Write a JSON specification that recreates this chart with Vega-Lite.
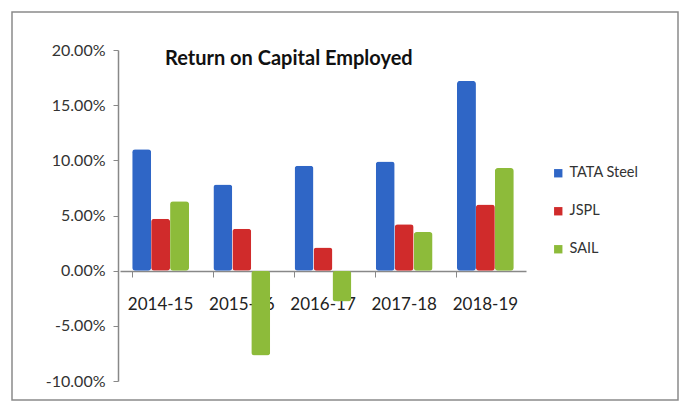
{
  "$schema": "https://vega.github.io/schema/vega-lite/v6.json",
  "width": 666,
  "height": 388,
  "autosize": {"type": "none"},
  "padding": {"left": 12, "top": 12, "right": 7, "bottom": 1},
  "background": "white",
  "title": {
    "text": "Return on Capital Employed",
    "anchor": "start",
    "frame": "group",
    "orient": "top",
    "dx": 153,
    "offset": -77,
    "baseline": "bottom",
    "font": "Lato",
    "fontSize": 20,
    "fontWeight": "bold",
    "color": "#111"
  },
  "data": {
    "values": [
      {"year": "2014-15", "company": "TATA Steel", "roce": 0.110},
      {"year": "2014-15", "company": "JSPL", "roce": 0.047},
      {"year": "2014-15", "company": "SAIL", "roce": 0.063},
      {"year": "2015-16", "company": "TATA Steel", "roce": 0.078},
      {"year": "2015-16", "company": "JSPL", "roce": 0.038},
      {"year": "2015-16", "company": "SAIL", "roce": -0.077},
      {"year": "2016-17", "company": "TATA Steel", "roce": 0.095},
      {"year": "2016-17", "company": "JSPL", "roce": 0.021},
      {"year": "2016-17", "company": "SAIL", "roce": -0.028},
      {"year": "2017-18", "company": "TATA Steel", "roce": 0.099},
      {"year": "2017-18", "company": "JSPL", "roce": 0.042},
      {"year": "2017-18", "company": "SAIL", "roce": 0.035},
      {"year": "2018-19", "company": "TATA Steel", "roce": 0.172},
      {"year": "2018-19", "company": "JSPL", "roce": 0.060},
      {"year": "2018-19", "company": "SAIL", "roce": 0.093}
    ]
  },
  "mark": {"type": "bar", "cornerRadius": 3},
  "encoding": {
    "x": {
      "field": "year",
      "type": "nominal",
      "sort": null,
      "scale": {"range": [108, 514], "paddingInner": 0.3, "paddingOuter": 0.15},
      "axis": {
        "title": null,
        "orient": "bottom",
        "offset": -129,
        "labelAngle": 0,
        "labelFont": "Lato",
        "labelFontSize": 17,
        "labelColor": "#222",
        "labelPadding": 19,
        "domainColor": "#888",
        "domainWidth": 1.5,
        "tickColor": "#888",
        "tickSize": 6,
        "bandPosition": 0
      }
    },
    "xOffset": {
      "field": "company",
      "type": "nominal",
      "sort": ["TATA Steel", "JSPL", "SAIL"],
      "scale": {"paddingInner": 0, "paddingOuter": 0}
    },
    "y": {
      "field": "roce",
      "type": "quantitative",
      "scale": {"domain": [-0.1, 0.2], "range": [369, 38], "nice": false, "zero": false},
      "axis": {
        "title": null,
        "values": [-0.1, -0.05, 0, 0.05, 0.1, 0.15, 0.2],
        "format": ".2%",
        "labelExpr": "replace(datum.label, '−', '-')",
        "offset": -106,
        "grid": false,
        "labelFont": "Lato",
        "labelFontSize": 16,
        "labelColor": "#333",
        "labelPadding": 8,
        "domainColor": "#888",
        "domainWidth": 1.5,
        "tickColor": "#888",
        "tickSize": 5
      }
    },
    "color": {
      "field": "company",
      "type": "nominal",
      "sort": ["TATA Steel", "JSPL", "SAIL"],
      "scale": {"domain": ["TATA Steel", "JSPL", "SAIL"], "range": ["#2f66c6", "#d02b2b", "#8dbb3a"]},
      "legend": {
        "title": null,
        "orient": "none",
        "legendX": 539,
        "legendY": 154,
        "symbolType": "square",
        "symbolSize": 70,
        "symbolStrokeWidth": 0,
        "labelFont": "Lato",
        "labelFontSize": 14.5,
        "labelColor": "#333",
        "rowPadding": 23
      }
    }
  },
  "config": {
    "view": {"stroke": "#8a8a8a", "strokeWidth": 1.5}
  }
}
